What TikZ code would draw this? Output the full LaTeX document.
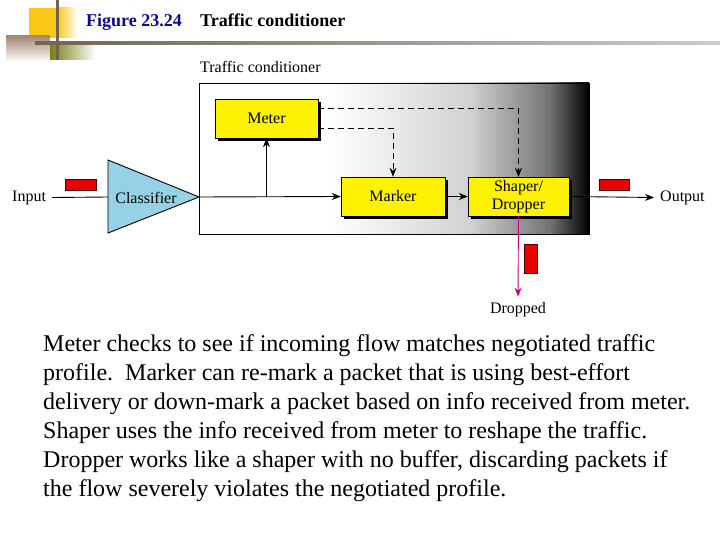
\documentclass[tikz,border=0pt]{standalone}
\usepackage{fontspec}
\setmainfont{Liberation Serif}
\usetikzlibrary{arrows.meta,shadows}
\definecolor{figblue}{RGB}{10,10,150}
\definecolor{clsblue}{RGB}{150,210,230}
\definecolor{pktred}{RGB}{235,0,0}
\definecolor{dropmag}{RGB}{205,0,125}
\definecolor{decoyel}{RGB}{250,200,20}
\definecolor{decobrown}{RGB}{165,135,115}
\definecolor{decoolive}{RGB}{125,125,20}
\definecolor{decoline}{RGB}{110,100,80}
\tikzset{
  dfont/.style={font=\fontsize{16}{18}\selectfont},
  ybox/.style={draw=black, fill=yellow, inner sep=0pt, dfont, align=center,
    drop shadow={shadow xshift=3pt, shadow yshift=-3pt, opacity=1, fill=black}},
  pkt/.style={draw=black!70!red, fill=pktred, line width=0.6pt},
  flow/.style={line width=0.9pt, -{Stealth[length=9pt,width=7pt]}},
  plain/.style={line width=0.9pt},
  dashflow/.style={line width=0.9pt, dash pattern=on 6pt off 4pt, -{Stealth[length=9pt,width=7pt]}},
  dropflow/.style={line width=0.9pt, draw=dropmag, -{Stealth[length=9pt,width=7pt,fill=dropmag]}},
}
\begin{document}
\begin{tikzpicture}[x=1pt,y=-1pt]
\useasboundingbox (0,0) rectangle (720,540);
% decoration
\fill[decoyel] (29,8) rectangle (57,38);
\shade[left color=decoyel, right color=white] (57,8) rectangle (78,38);
\shade[top color=decobrown, bottom color=white] (6,36) rectangle (50,62);
\shade[left color=decoolive, right color=white] (50,43) rectangle (96,60);
\fill[decoline] (56,0) rectangle (59,60);
\shade[left color=decoline, right color=black!20] (35,42) rectangle (720,45);
% title
\node[anchor=base west, inner sep=0pt, font=\fontsize{18}{20}\selectfont\bfseries, text=figblue] (fig) at (86,27) {Figure 23.24};
\node[anchor=base west, inner sep=0pt, font=\fontsize{18}{20}\selectfont\bfseries] (ttl) at (200,27) {Traffic conditioner};
% conditioner box
\fill[white] (199,83) rectangle (330,234);
\shade[left color=white, right color=black!18] (330,83) rectangle (470,234);
\shade[left color=black!18, right color=black!55] (470,83) rectangle (550,234);
\shade[left color=black!55, right color=black] (550,83) rectangle (589,234);
\node[draw=black, line width=0.9pt, minimum width=390pt, minimum height=151pt, inner sep=0pt] (tc) at (394,158.5) {};
\node[anchor=base west, inner sep=0pt, dfont] (tclabel) at (200,73) {Traffic conditioner};
% boxes
\node[ybox, minimum width=103pt, minimum height=39pt] (meter) at (266.5,118.5) {Meter};
\node[ybox, minimum width=104pt, minimum height=39pt] (marker) at (393,196.5) {Marker};
\node[ybox, minimum width=101pt, minimum height=39pt] (shaper) at (518.5,196.5) {Shaper/\\Dropper};
% classifier
\fill[clsblue, draw=black, line width=0.9pt] (108,160) -- (199,197) -- (108,233) -- cycle;
\coordinate (clsin) at (108,197);
\coordinate (clstip) at (199,197);
\node[dfont, inner sep=0pt] (cls) at (146,198) {Classifier};
% input / output / dropped
\node[dfont, inner sep=0pt, anchor=west] (in) at (12,197.5) {Input};
\node[dfont, inner sep=0pt, anchor=west] (out) at (660,197.5) {Output};
\node[dfont, inner sep=0pt, anchor=base] (dropped) at (518,313) {Dropped};
\node[pkt, minimum width=31pt, minimum height=11pt, inner sep=0pt] (p1) at (81,185) {};
\node[pkt, minimum width=30pt, minimum height=11pt, inner sep=0pt] (p2) at (614,184.5) {};
\node[pkt, minimum width=13pt, minimum height=29pt, inner sep=0pt] (p3) at (530.5,258.5) {};
% connectors
\draw[plain] ([xshift=6pt]in.east) -- (clsin);
\draw[flow] (clstip) -- (marker.west);
\draw[flow] (meter.south |- clstip) -- (meter.south);
\draw[flow] (marker.east) -- (shaper.west);
\draw[flow] (shaper.east) -- ([xshift=-6pt]out.west);
\draw[dashflow] ([yshift=10.5pt]meter.east) -| (shaper.north);
\draw[dashflow] ([yshift=-9.5pt]meter.east) -| (marker.north);
\draw[dropflow] (shaper.south) -- ([yshift=5pt]dropped.north);
% body text
\node[anchor=north west, inner sep=0pt, align=left, font=\fontsize{24}{29}\selectfont] (body) at (43,334) {Meter checks to see if incoming flow matches negotiated traffic\\
profile.~~Marker can re-mark a packet that is using best-effort\\
delivery or down-mark a packet based on info received from meter.\\
Shaper uses the info received from meter to reshape the traffic.\\
Dropper works like a shaper with no buffer, discarding packets if\\
the flow severely violates the negotiated profile.};
\end{tikzpicture}
\end{document}
